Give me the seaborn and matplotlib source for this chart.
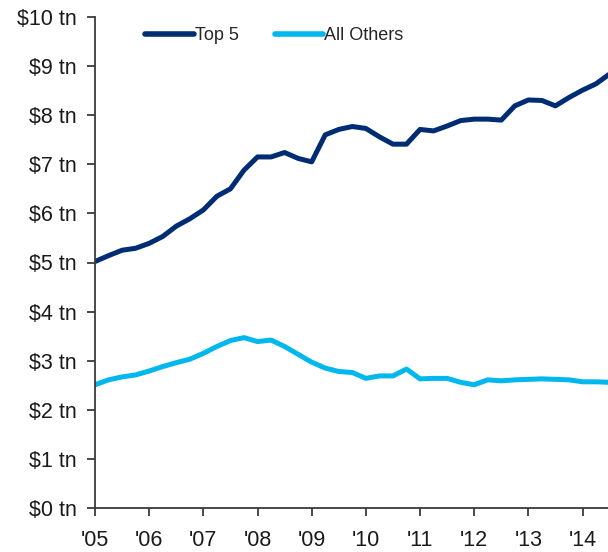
import numpy as np
import pandas as pd
import matplotlib
matplotlib.use("Agg")
import matplotlib.pyplot as plt
import seaborn as sns

# Quarterly data, Q1 2005 .. Q3 2014 ($ trillions)
start_year = 2005
top5 = [5.02, 5.14, 5.25, 5.29,
        5.39, 5.53, 5.74, 5.89,
        6.07, 6.35, 6.50, 6.88,
        7.15, 7.15, 7.24, 7.12,
        7.05, 7.60, 7.71, 7.77,
        7.73, 7.56, 7.41, 7.41,
        7.71, 7.68, 7.78, 7.89,
        7.92, 7.92, 7.90, 8.19,
        8.31, 8.30, 8.19, 8.36,
        8.51, 8.64, 8.84]
others = [2.51, 2.61, 2.67, 2.71,
          2.79, 2.88, 2.96, 3.03,
          3.15, 3.29, 3.41, 3.47,
          3.39, 3.42, 3.29, 3.13,
          2.97, 2.85, 2.78, 2.76,
          2.64, 2.69, 2.69, 2.83,
          2.63, 2.64, 2.64, 2.56,
          2.51, 2.61, 2.59, 2.61,
          2.62, 2.63, 2.62, 2.61,
          2.57, 2.57, 2.56]
series_names = ["Top 5", "All Others"]
colors = ["#002C73", "#00B8EE"]
year_ticks = list(range(2005, 2015))
year_labels = ["'05", "'06", "'07", "'08", "'09", "'10", "'11", "'12", "'13", "'14"]
y_ticks = list(range(0, 11))
y_labels = [f"${v} tn" for v in y_ticks]

n = len(top5)
t = [start_year + i * 0.25 for i in range(n)]
df = pd.DataFrame({
    "t": t * 2,
    "value": top5 + others,
    "series": [series_names[0]] * n + [series_names[1]] * n,
})

sns.set_style("ticks")
plt.rcParams["font.family"] = ["Liberation Sans", "DejaVu Sans"]

fig = plt.figure(figsize=(6.08, 5.52), dpi=100)
ax = fig.add_axes([95 / 608, 1 - 508 / 552, (608 - 95) / 608, (508 - 17) / 552])

sns.lineplot(data=df, x="t", y="value", hue="series", hue_order=series_names,
             palette=colors, linewidth=3.6, ax=ax, legend=True,
             solid_capstyle="round")

ax.set_xlim(2005, 2014.47)
ax.set_ylim(0, 10)
ax.set_xticks(year_ticks)
ax.set_xticklabels(year_labels)
ax.set_yticks(y_ticks)
ax.set_yticklabels(y_labels)
ax.set_xlabel("")
ax.set_ylabel("")

for s in ["top", "right"]:
    ax.spines[s].set_visible(False)
for s in ["left", "bottom"]:
    ax.spines[s].set_color("#3a3a3a")
    ax.spines[s].set_linewidth(1.3)
ax.tick_params(axis="both", direction="out", length=6, width=1.3,
               color="#3a3a3a", labelsize=15.5, labelcolor="#1a1a1a")
ax.tick_params(axis="y", pad=7)
ax.tick_params(axis="x", pad=10)

handles, labels = ax.get_legend_handles_labels()
leg = ax.legend(handles, labels, loc="center left",
                bbox_to_anchor=(145 / 608, 1 - 36 / 552),
                bbox_transform=fig.transFigure, ncol=2, frameon=False,
                fontsize=13, handlelength=2.7, handletextpad=0.05,
                columnspacing=2.0, borderpad=0, borderaxespad=0)
for line in leg.get_lines():
    line.set_linewidth(4)
    line.set_solid_capstyle("round")

fig.savefig("out.png", dpi=100)
